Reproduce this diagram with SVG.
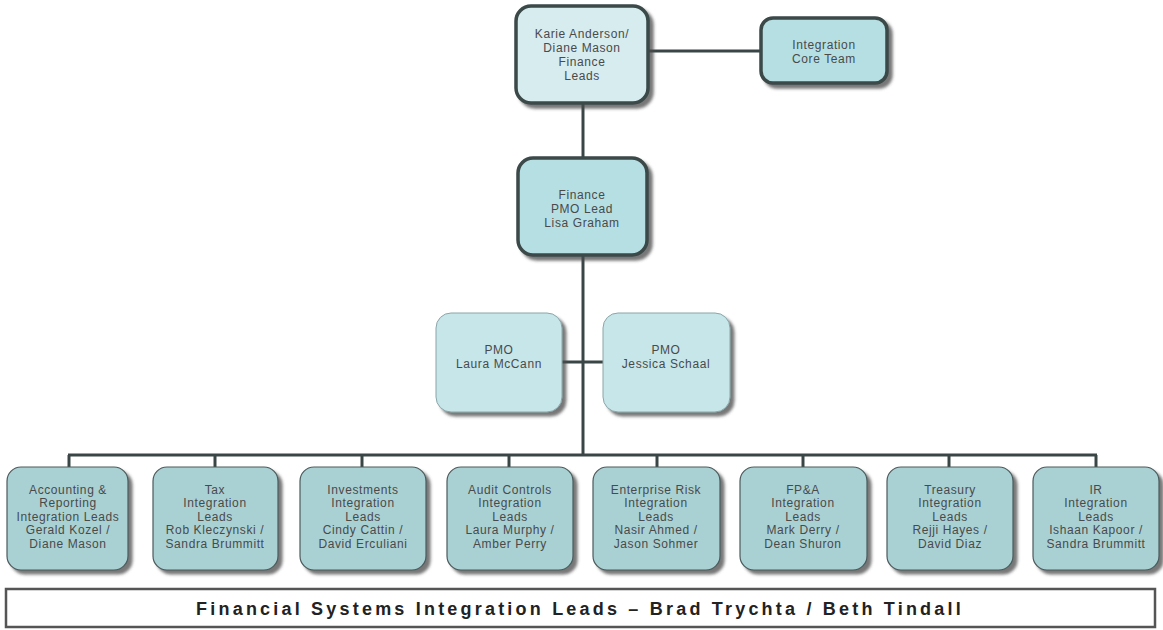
<svg xmlns="http://www.w3.org/2000/svg" width="1163" height="630" viewBox="0 0 1163 630">
<defs>
<filter id="sh" x="-10%" y="-10%" width="130%" height="130%">
<feDropShadow dx="4" dy="4" stdDeviation="1.5" flood-color="#4a4a4a" flood-opacity="0.75"/>
</filter>
<style>
.t{font-family:"Liberation Sans",Arial,sans-serif;font-size:12px;letter-spacing:0.6px;fill:#4a4a4a;text-anchor:middle}
.lead{fill:#d6ecef;stroke:#3b4848;stroke-width:3.5;filter:url(#sh)}
.core{fill:#b6dfe3;stroke:#3b4848;stroke-width:3.5;filter:url(#sh)}
.pmo{fill:#c6e6ea;stroke:#8aa5a8;stroke-width:1;filter:url(#sh)}
.sub{fill:#a9d1d4;stroke:#4b5a5b;stroke-width:1.2;filter:url(#sh)}
.ln{stroke:#3a4646;stroke-width:3;fill:none}
</style>
</defs>
<rect width="1163" height="630" fill="#ffffff"/>
<g id="connectors">
<line class="ln" x1="648" y1="51" x2="760" y2="51"/>
<line class="ln" x1="583" y1="103" x2="583" y2="157"/>
<line class="ln" x1="583" y1="255" x2="583" y2="456"/>
<line class="ln" x1="562" y1="362" x2="603" y2="362"/>
<line class="ln" x1="68" y1="455" x2="1097" y2="455"/>
<line class="ln" x1="69" y1="455" x2="69" y2="467"/>
<line class="ln" x1="215" y1="455" x2="215" y2="467"/>
<line class="ln" x1="362" y1="455" x2="362" y2="467"/>
<line class="ln" x1="509" y1="455" x2="509" y2="467"/>
<line class="ln" x1="657" y1="455" x2="657" y2="467"/>
<line class="ln" x1="803" y1="455" x2="803" y2="467"/>
<line class="ln" x1="949" y1="455" x2="949" y2="467"/>
<line class="ln" x1="1096" y1="455" x2="1096" y2="467"/>
</g>
<g id="finance-leads">
<rect class="lead" x="516" y="6" width="132" height="97" rx="15"/>
<text class="t" x="582" y="38">Karie Anderson/</text>
<text class="t" x="582" y="52">Diane Mason</text>
<text class="t" x="582" y="66">Finance</text>
<text class="t" x="582" y="80">Leads</text>
</g>
<g id="core-team">
<rect class="core" x="761" y="18" width="126" height="65" rx="12"/>
<text class="t" x="824" y="49">Integration</text>
<text class="t" x="824" y="63">Core Team</text>
</g>
<g id="pmo-lead">
<rect class="core" x="518" y="158" width="129" height="97" rx="15"/>
<text class="t" x="582" y="199">Finance</text>
<text class="t" x="582" y="213">PMO Lead</text>
<text class="t" x="582" y="227">Lisa Graham</text>
</g>
<g id="pmo-laura">
<rect class="pmo" x="436" y="313" width="126" height="99" rx="15"/>
<text class="t" x="499" y="354">PMO</text>
<text class="t" x="499" y="368">Laura McCann</text>
</g>
<g id="pmo-jessica">
<rect class="pmo" x="603" y="313" width="127" height="99" rx="15"/>
<text class="t" x="666" y="354">PMO</text>
<text class="t" x="666" y="368">Jessica Schaal</text>
</g>
<g id="accounting">
<rect class="sub" x="7" y="467" width="121" height="103" rx="14"/>
<text class="t" x="68" y="494">Accounting &amp;</text>
<text class="t" x="68" y="507">Reporting</text>
<text class="t" x="68" y="521">Integration Leads</text>
<text class="t" x="68" y="534">Gerald Kozel /</text>
<text class="t" x="68" y="548">Diane Mason</text>
</g>
<g id="tax">
<rect class="sub" x="153" y="467" width="125" height="103" rx="14"/>
<text class="t" x="215" y="494">Tax</text>
<text class="t" x="215" y="507">Integration</text>
<text class="t" x="215" y="521">Leads</text>
<text class="t" x="215" y="534">Rob Kleczynski /</text>
<text class="t" x="215" y="548">Sandra Brummitt</text>
</g>
<g id="investments">
<rect class="sub" x="300" y="467" width="126" height="103" rx="14"/>
<text class="t" x="363" y="494">Investments</text>
<text class="t" x="363" y="507">Integration</text>
<text class="t" x="363" y="521">Leads</text>
<text class="t" x="363" y="534">Cindy Cattin /</text>
<text class="t" x="363" y="548">David Erculiani</text>
</g>
<g id="audit">
<rect class="sub" x="447" y="467" width="126" height="103" rx="14"/>
<text class="t" x="510" y="494">Audit Controls</text>
<text class="t" x="510" y="507">Integration</text>
<text class="t" x="510" y="521">Leads</text>
<text class="t" x="510" y="534">Laura Murphy /</text>
<text class="t" x="510" y="548">Amber Perry</text>
</g>
<g id="enterprise-risk">
<rect class="sub" x="593" y="467" width="127" height="103" rx="14"/>
<text class="t" x="656" y="494">Enterprise Risk</text>
<text class="t" x="656" y="507">Integration</text>
<text class="t" x="656" y="521">Leads</text>
<text class="t" x="656" y="534">Nasir Ahmed /</text>
<text class="t" x="656" y="548">Jason Sohmer</text>
</g>
<g id="fpa">
<rect class="sub" x="740" y="467" width="127" height="103" rx="14"/>
<text class="t" x="803" y="494">FP&amp;A</text>
<text class="t" x="803" y="507">Integration</text>
<text class="t" x="803" y="521">Leads</text>
<text class="t" x="803" y="534">Mark Derry /</text>
<text class="t" x="803" y="548">Dean Shuron</text>
</g>
<g id="treasury">
<rect class="sub" x="887" y="467" width="126" height="103" rx="14"/>
<text class="t" x="950" y="494">Treasury</text>
<text class="t" x="950" y="507">Integration</text>
<text class="t" x="950" y="521">Leads</text>
<text class="t" x="950" y="534">Rejji Hayes /</text>
<text class="t" x="950" y="548">David Diaz</text>
</g>
<g id="ir">
<rect class="sub" x="1033" y="467" width="126" height="103" rx="14"/>
<text class="t" x="1096" y="494">IR</text>
<text class="t" x="1096" y="507">Integration</text>
<text class="t" x="1096" y="521">Leads</text>
<text class="t" x="1096" y="534">Ishaan Kapoor /</text>
<text class="t" x="1096" y="548">Sandra Brummitt</text>
</g>
<g id="footer">
<rect x="6" y="589" width="1149" height="38" fill="#ffffff" stroke="#555" stroke-width="2.5"/>
<text x="580" y="615" font-family="'Liberation Sans',Arial,sans-serif" font-size="18" font-weight="bold" fill="#222" text-anchor="middle" letter-spacing="3.2">Financial Systems Integration Leads – Brad Trychta / Beth Tindall</text>
</g>
</svg>
